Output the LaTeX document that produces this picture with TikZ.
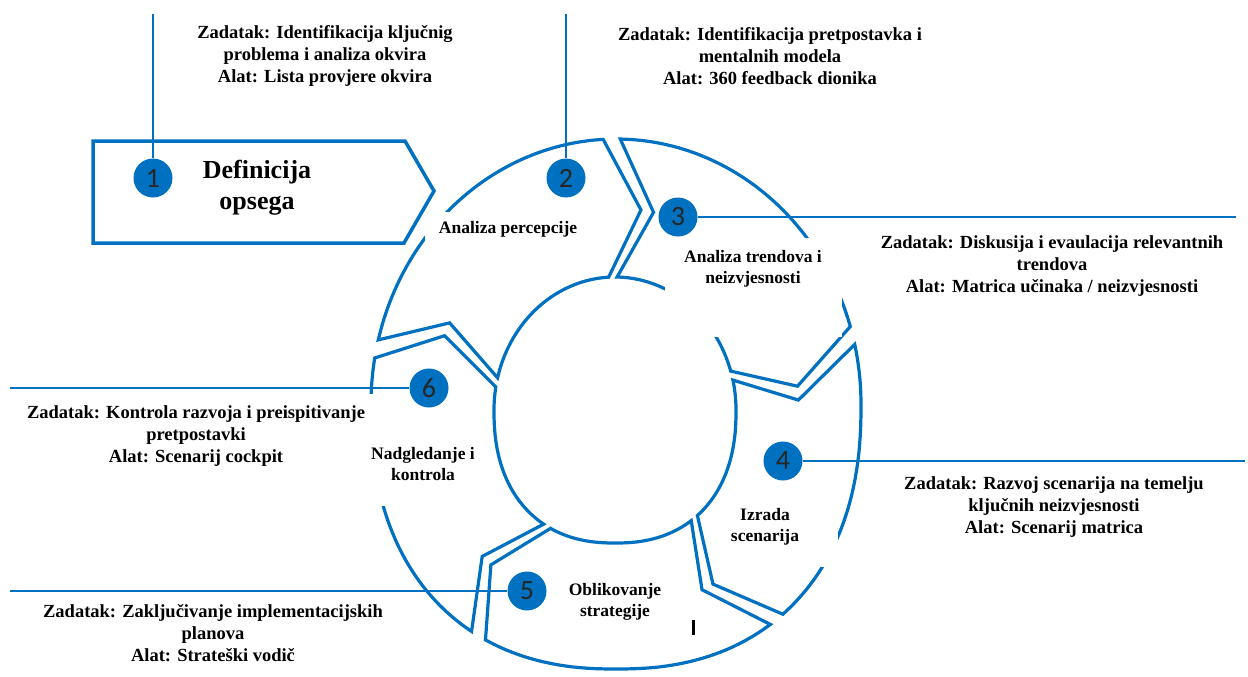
\documentclass[tikz,border=0pt]{standalone}
\usepackage{fontspec}
\setmainfont{Liberation Serif}
\newfontfamily\digitfont{Carlito}
\definecolor{rblue}{RGB}{0,112,192}
% squarish lower half of the ring
\pgfmathdeclarefunction{ringx}{3}{%
  \begingroup\pgfmathparse{#3+#2*sign(cos(#1))*pow(abs(cos(#1))+0.00001,(sin(#1)<0?0.87:1))}%
  \pgfmathsmuggle\pgfmathresult\endgroup}
\pgfmathdeclarefunction{ringy}{3}{%
  \begingroup\pgfmathparse{#3-#2*sign(sin(#1))*pow(abs(sin(#1))+0.00001,(sin(#1)<0?0.87:1))}%
  \pgfmathsmuggle\pgfmathresult\endgroup}
\newcommand\ringseg[2]{%
  \draw[seg] plot[domain={#1-2}:{#2+2}, samples=60] ({ringx(\x,245,616)},{ringy(\x,265,404)})
    -- ({ringx(#2+2-11,183,615.5)},{ringy(#2+2-11,199,407)})
    -- plot[domain={#2+2}:{#1-2}, samples=60] ({ringx(\x,121,615)},{ringy(\x,133,410)})
    -- ({ringx(#1-2-11,183,615.5)},{ringy(#1-2-11,199,407)}) -- cycle;}
\begin{document}
\begin{tikzpicture}[x=1pt,y=-1pt,
  seg/.style={draw=rblue, line width=3.2pt, line join=miter},
  conn/.style={draw=rblue, line width=2pt},
  num/.style={circle, fill=rblue, minimum size=39pt, inner sep=0pt, text=black!85, font=\digitfont\fontsize{28}{28}\selectfont},
  note/.style={align=center, font=\bfseries\fontsize{18.5}{21.7}\selectfont, inner sep=0pt},
  lbl/.style={align=center, font=\bfseries\fontsize{17.5}{21}\selectfont, inner sep=0pt}]
\useasboundingbox (0,0) rectangle (1248,677);
% ring segments
\ringseg{168}{91}
\ringseg{91}{15}
\ringseg{15}{-52}
\ringseg{-52}{-121}
\ringseg{-121}{-192}
% white label backgrounds
\fill[white] (425,212) rectangle (590,243);
\fill[white] (665,238) rectangle (842,337);
\fill[white] (716,498) rectangle (838,567);
\fill[white] (364,394) rectangle (482,506);
% step 1 box
\draw[rblue, line width=3.5pt, fill=white] (93,141) -- (405,141) -- (434,191) -- (404,243) -- (93,243) -- cycle;
\node[align=center, font=\bfseries\fontsize{26}{31}\selectfont, inner sep=0pt] (t1) at (257,188) {Definicija\\opsega};
% ring labels
\node[lbl] (t2) at (508,229) {Analiza percepcije};
\node[lbl] (t3) at (753,269) {Analiza trendova i\\neizvjesnosti};
\node[lbl] (t4) at (765,527) {Izrada\\scenarija};
\node[lbl] (t5) at (615,602) {Oblikovanje\\strategije};
\node[lbl] (t6) at (423,464) {Nadgledanje i\\kontrola};
% number circles
\node[num] (c1) at (153,178) {1};
\node[num] (c2) at (566,178) {2};
\node[num] (c3) at (678,217) {3};
\node[num] (c4) at (783,461) {4};
\node[num] (c5) at (527,591) {5};
\node[num] (c6) at (429,388) {6};
% connector ends
\coordinate (e1) at (153,14);
\coordinate (e2) at (566,14);
\coordinate (e3) at (1236,217);
\coordinate (e4) at (1245,461);
\coordinate (e5) at (10,591);
\coordinate (e6) at (10,388);
\draw[conn] (e1) -- (c1);
\draw[conn] (e2) -- (c2);
\draw[conn] (c3) -- (e3);
\draw[conn] (c4) -- (e4);
\draw[conn] (e5) -- (c5);
\draw[conn] (e6) -- (c6);
% annotations
\node[note] (n1) at (325,56) {Zadatak: Identifikacija ključnig\\problema i analiza okvira\\Alat: Lista provjere okvira};
\node[note] (n2) at (770,56) {Zadatak: Identifikacija pretpostavka i\\mentalnih modela\\Alat: 360 feedback dionika};
\node[note] (n3) at (1052,266) {Zadatak: Diskusija i evaulacija relevantnih\\trendova\\Alat: Matrica učinaka / neizvjesnosti};
\node[note] (n4) at (1054,507) {Zadatak: Razvoj scenarija na temelju\\ključnih neizvjesnosti\\Alat: Scenarij matrica};
\node[note] (n5) at (213,633) {Zadatak: Zaključivanje implementacijskih\\planova\\Alat: Strateški vodič};
\node[note] (n6) at (196,436) {Zadatak: Kontrola razvoja i preispitivanje\\pretpostavki\\Alat: Scenarij cockpit};
% stray mark
\draw[black, line width=3pt] (693,620) -- (693,635);
\end{tikzpicture}
\end{document}
